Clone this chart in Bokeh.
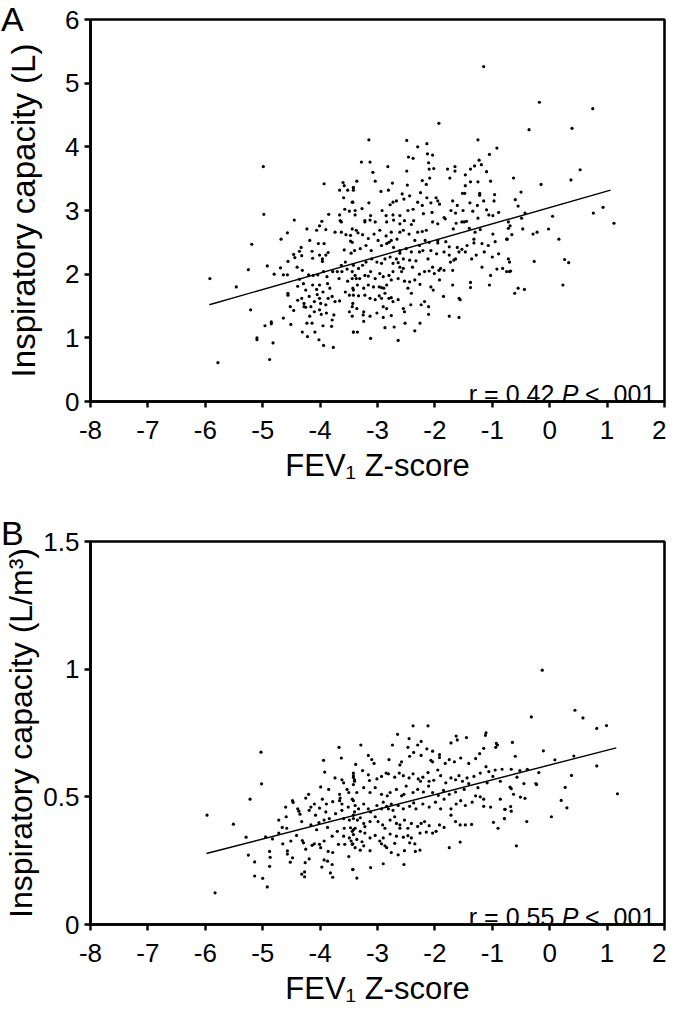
from bokeh.plotting import figure
from bokeh.models import Range1d, FixedTicker, Div
from bokeh.layouts import column
from bokeh.core.properties import value
from bokeh.embed import file_html
from bokeh.resources import INLINE

FONT = "Liberation Sans"

x_ticks = [-8, -7, -6, -5, -4, -3, -2, -1, 0, 1, 2]
x_tick_labels = ["-8", "-7", "-6", "-5", "-4", "-3", "-2", "-1", "0", "1", "2"]
a_y_ticks = [0, 1, 2, 3, 4, 5, 6]
a_y_tick_labels = ["0", "1", "2", "3", "4", "5", "6"]
b_y_ticks = [0, 0.5, 1, 1.5]
b_y_tick_labels = ["0", "0.5", "1", "1.5"]

x_title = "FEV\u2081 Z-score"
a_y_title = "Inspiratory capacity (L)"
b_y_title = "Inspiratory capacity (L/m\u00b3)"
panel_letters = ["A", "B"]

# Panel A: FEV1 Z-score vs inspiratory capacity (L)
a_left = [
    (-4.99, 3.69), (-3.93, 3.42), (-4.98, 2.94), (-4.45, 2.85), (-5.19, 2.47), (-4.68, 2.55), (-4.57, 2.65),
    (-4.23, 2.71), (-5.25, 2.07), (-4.92, 2.13), (-5.92, 1.93), (-5.46, 1.80), (-5.21, 1.44), (-4.96, 1.19),
    (-4.85, 1.25), (-4.85, 1.22), (-5.10, 1.00), (-5.10, 0.97), (-4.82, 0.92), (-5.78, 0.61), (-4.88, 0.66),
    (-4.64, 1.31), (-4.51, 1.21), (-4.80, 2.00), (-4.69, 2.10), (-4.64, 1.99), (-4.57, 1.99), (-4.56, 2.20),
    (-4.46, 2.31), (-4.44, 2.26), (-4.36, 2.36), (-4.32, 2.29), (-4.33, 2.42), (-4.40, 2.11), (-4.31, 2.06),
    (-4.18, 2.53), (-4.14, 2.36), (-4.13, 2.25), (-4.03, 2.48), (-4.01, 2.30), (-3.93, 2.48), (-3.96, 2.24),
    (-3.96, 2.20), (-3.90, 2.30), (-3.86, 2.34), (-4.06, 2.69), (-3.97, 2.83), (-4.01, 2.76), (-3.90, 2.70),
    (-3.85, 2.94), (-3.74, 2.66), (-3.66, 2.93), (-3.65, 2.84), (-3.63, 2.82), (-3.60, 3.44), (-3.58, 3.39),
    (-3.66, 3.32), (-3.52, 3.32), (-3.59, 3.20), (-3.49, 2.99), (-3.57, 3.02), (-3.63, 2.66), (-3.55, 2.62),
    (-3.47, 2.61), (-3.44, 2.71), (-3.42, 3.36), (-3.44, 3.13), (-3.47, 2.52), (-3.58, 2.38), (-3.46, 2.33),
    (-3.56, 2.19), (-3.63, 2.14), (-3.70, 2.04), (-3.62, 2.04), (-3.53, 2.08), (-3.44, 1.93), (-3.52, 1.89),
    (-3.67, 1.93), (-3.78, 2.04), (-3.88, 1.96), (-3.94, 2.04), (-4.04, 1.99), (-4.12, 1.98), (-4.20, 1.99),
    (-4.36, 1.92), (-4.29, 1.85), (-4.39, 1.81), (-4.25, 1.75), (-4.13, 1.83), (-4.01, 1.83), (-4.06, 1.76),
    (-3.95, 1.72), (-3.87, 1.85), (-3.83, 1.78), (-3.79, 1.65), (-3.74, 1.57), (-3.66, 1.58), (-3.56, 1.72),
    (-3.49, 1.67), (-3.42, 1.75), (-3.43, 1.54), (-3.49, 1.41), (-3.44, 1.34), (-3.42, 1.09), (-4.56, 1.70),
    (-4.56, 1.67), (-4.52, 1.49), (-4.46, 1.43), (-4.39, 1.59), (-4.32, 1.62), (-4.28, 1.54), (-4.28, 1.49),
    (-4.25, 1.48), (-4.19, 1.65), (-4.16, 1.49), (-4.10, 1.57), (-4.05, 1.68), (-4.01, 1.62), (-3.99, 1.54),
    (-3.90, 1.52), (-3.86, 1.62), (-4.10, 1.41), (-4.01, 1.44), (-3.98, 1.37), (-3.89, 1.39), (-3.76, 1.36),
    (-3.79, 1.28), (-4.18, 1.34), (-4.23, 1.23), (-4.14, 1.23), (-3.95, 1.19), (-3.80, 1.18), (-4.31, 1.09),
    (-4.22, 1.02), (-4.09, 1.09), (-4.02, 0.97), (-3.94, 0.88), (-3.77, 0.85),
]
a_mid = [
    (-1.15, 5.26), (-1.93, 4.37), (-3.15, 4.11), (-2.49, 4.10), (-2.14, 4.05), (-2.30, 4.00), (-1.25, 4.11),
    (-0.92, 3.98), (-1.05, 3.88), (-3.28, 3.76), (-3.13, 3.76), (-2.46, 3.84), (-2.38, 3.82), (-2.13, 3.89),
    (-2.04, 3.87), (-2.82, 3.69), (-2.49, 3.62), (-2.11, 3.75), (-2.10, 3.65), (-2.02, 3.66), (-1.78, 3.65),
    (-1.74, 3.51), (-1.65, 3.69), (-1.65, 3.62), (-1.47, 3.56), (-1.38, 3.65), (-1.31, 3.70), (-1.23, 3.79),
    (-1.19, 3.72), (-1.10, 3.61), (-3.08, 3.60), (-3.36, 3.46), (-3.04, 3.46), (-2.74, 3.43), (-2.48, 3.40),
    (-2.22, 3.47), (-2.15, 3.41), (-2.09, 3.51), (-3.42, 3.36), (-3.42, 3.32), (-2.81, 3.32), (-2.94, 3.30),
    (-2.57, 3.26), (-2.25, 3.28), (-2.14, 3.20), (-1.98, 3.20), (-1.47, 3.39), (-1.38, 3.45), (-1.25, 3.45),
    (-1.03, 3.46), (-1.52, 3.27), (-1.48, 3.27), (-1.22, 3.27), (-1.22, 3.24), (-0.96, 3.25),
    (-3.43, 3.13), (-3.15, 3.12), (-2.78, 3.09), (-2.73, 3.13), (-2.67, 3.15), (-2.54, 3.18), (-2.44, 3.23),
    (-2.30, 3.13), (-2.22, 3.08), (-2.07, 3.12), (-1.95, 3.15), (-1.92, 3.10), (-1.69, 3.15), (-1.61, 3.08),
    (-1.39, 3.12), (-1.26, 3.08), (-1.15, 3.15), (-1.10, 3.01), (-0.97, 3.15),
    (-3.39, 3.00), (-3.39, 2.93), (-3.27, 3.03), (-3.12, 2.92), (-2.92, 3.00), (-2.85, 2.92), (-2.73, 2.93),
    (-2.61, 2.92), (-2.47, 3.00), (-2.38, 3.02), (-2.20, 2.95), (-2.05, 2.97), (-1.84, 2.89), (-1.72, 3.00),
    (-1.64, 2.96), (-1.51, 3.00), (-1.45, 2.83), (-1.34, 2.99), (-1.25, 2.88), (-1.06, 2.93), (-0.99, 2.92),
    (-0.89, 2.97),
    (-3.22, 2.84), (-3.22, 2.82), (-3.13, 2.85), (-3.04, 2.82), (-2.84, 2.82), (-2.72, 2.85), (-2.61, 2.79),
    (-2.53, 2.84), (-2.41, 2.78), (-2.37, 2.84), (-2.30, 2.66), (-2.22, 2.67), (-2.15, 2.69), (-2.04, 2.82),
    (-1.95, 2.79), (-1.82, 2.87), (-1.68, 2.71), (-1.63, 2.80), (-1.53, 2.82), (-1.49, 2.82), (-1.40, 2.72),
    (-1.30, 2.66), (-1.21, 2.70), (-0.99, 2.63),
    (-3.37, 2.69), (-3.34, 2.65), (-3.26, 2.62), (-3.16, 2.56), (-3.06, 2.63), (-2.96, 2.69), (-2.85, 2.60),
    (-2.76, 2.66), (-2.61, 2.66), (-2.55, 2.69), (-2.45, 2.63), (-2.35, 2.53), (-2.27, 2.45), (-2.17, 2.53),
    (-2.10, 2.50), (-1.95, 2.53), (-1.95, 2.49), (-1.81, 2.51), (-1.75, 2.43), (-1.61, 2.42), (-1.53, 2.39),
    (-1.44, 2.45), (-1.32, 2.55), (-1.32, 2.49), (-1.18, 2.48), (-1.07, 2.45), (-0.95, 2.51), (-0.75, 2.55),
    (-3.44, 2.50), (-3.40, 2.37), (-3.30, 2.40), (-3.20, 2.45), (-3.11, 2.37), (-2.99, 2.53), (-2.93, 2.45),
    (-2.84, 2.48), (-2.80, 2.50), (-2.76, 2.53), (-2.72, 2.42), (-2.66, 2.55), (-2.61, 2.37), (-2.61, 2.33),
    (-2.50, 2.40), (-2.41, 2.35), (-2.27, 2.35), (-2.21, 2.37), (-2.07, 2.37), (-1.97, 2.32), (-1.84, 2.35),
    (-1.75, 2.30), (-1.67, 2.22), (-1.64, 2.24), (-1.58, 2.35), (-1.47, 2.35), (-1.36, 2.24), (-1.28, 2.30),
    (-1.14, 2.35), (-1.00, 2.27), (-0.89, 2.32),
    (-1.18, 2.11), (-1.03, 1.98), (-0.92, 2.08), (-0.82, 2.09), (-0.75, 2.04), (-1.05, 1.83), (-1.38, 1.87),
    (-1.38, 1.79), (-1.69, 1.83), (-1.58, 1.62), (-1.56, 1.60), (-1.85, 1.65), (-1.75, 1.34), (-1.58, 1.32),
    (-1.92, 1.91), (-2.01, 2.01), (-1.93, 2.06), (-1.90, 2.09), (-2.10, 2.05), (-2.04, 2.11), (-2.18, 2.04),
    (-2.27, 2.00), (-2.35, 1.91), (-2.26, 1.84), (-2.07, 1.80), (-2.03, 1.75), (-2.18, 1.57), (-2.11, 1.49),
    (-2.11, 1.37), (-2.24, 1.52), (-2.42, 1.52), (-2.41, 1.70), (-2.47, 1.78), (-2.53, 1.89), (-2.44, 1.88),
    (-2.61, 2.11), (-2.55, 2.09), (-2.58, 2.04), (-2.73, 2.17), (-2.67, 2.24), (-2.64, 2.18), (-2.78, 2.27),
    (-2.87, 2.24), (-2.93, 2.17), (-3.01, 2.19), (-3.10, 2.24), (-3.20, 2.19), (-3.26, 2.14), (-3.33, 2.09),
    (-3.42, 2.14), (-3.44, 2.04), (-3.39, 1.98), (-3.37, 1.93), (-3.31, 1.93), (-3.22, 1.98), (-3.16, 1.97),
    (-3.12, 2.04), (-3.04, 1.93), (-2.96, 2.01), (-2.90, 1.96), (-2.80, 1.98), (-2.73, 2.04), (-2.64, 1.93),
    (-2.76, 1.91), (-2.84, 1.83), (-2.93, 1.79), (-2.89, 1.78), (-2.97, 1.80), (-3.07, 1.80), (-3.16, 1.83),
    (-3.24, 1.78), (-3.35, 1.83), (-3.43, 1.78),
    (-3.42, 1.67), (-3.33, 1.66), (-3.22, 1.67), (-3.13, 1.62), (-3.04, 1.60), (-2.97, 1.66), (-2.93, 1.62),
    (-2.87, 1.70), (-2.80, 1.62), (-2.76, 1.63), (-2.90, 1.49), (-2.84, 1.46), (-2.73, 1.57), (-2.64, 1.60),
    (-2.55, 1.46), (-2.53, 1.41), (-2.76, 1.35), (-2.90, 1.32), (-3.01, 1.39), (-3.13, 1.34), (-3.24, 1.41),
    (-3.25, 1.36), (-3.24, 1.26), (-3.36, 1.46), (-3.44, 1.49), (-3.42, 1.09), (-3.35, 1.09), (-3.12, 0.99),
    (-2.87, 1.16), (-2.71, 1.17), (-2.64, 0.96), (-2.52, 1.23), (-2.35, 1.11), (-2.26, 1.23),
    (-2.44, 2.22), (-2.33, 2.21), (-2.39, 2.11), (-2.55, 2.24), (-2.12, 2.24), (-1.84, 2.06), (-1.73, 2.19),
    (-1.69, 2.06),
]
a_right = [
    (-0.18, 4.70), (0.75, 4.60), (-0.36, 4.27), (0.39, 4.29), (0.53, 3.64), (0.37, 3.48), (-0.63, 3.51),
    (-0.15, 3.41), (-0.50, 3.29), (-0.60, 3.17), (-0.55, 3.07), (-0.43, 2.96), (-0.49, 2.88), (0.05, 2.91),
    (0.76, 2.96), (0.93, 3.05), (1.12, 2.80), (-0.72, 2.82), (-0.69, 2.76), (-0.72, 2.72), (-0.47, 2.71),
    (-0.66, 2.62), (-0.74, 2.55), (-0.29, 2.63), (-0.22, 2.66), (-0.02, 2.71), (0.16, 2.55), (-0.72, 2.24),
    (-0.70, 2.19), (-0.70, 2.04), (-0.68, 2.05), (-0.27, 2.20), (0.26, 2.23), (0.33, 2.18), (0.23, 1.83),
    (-0.61, 1.70), (-0.55, 1.78), (-0.44, 1.76),
]
a_fit_x = [-5.93, 1.06]
a_fit_y = [1.52, 3.32]
a_stat = ["r = 0.42", "P", "< .001"]

# Panel B: FEV1 Z-score vs inspiratory capacity (L/m3)
b_left = [
    (-5.03, 0.675), (-3.67, 0.694), (-3.63, 0.652), (-3.94, 0.643), (-3.92, 0.597), (-5.02, 0.551),
    (-5.22, 0.491), (-5.97, 0.428), (-5.51, 0.393), (-5.29, 0.342), (-5.25, 0.272), (-5.14, 0.245),
    (-5.14, 0.190), (-5.00, 0.181), (-4.92, 0.147), (-5.83, 0.124), (-4.88, 0.286), (-4.87, 0.263),
    (-4.88, 0.228), (-4.95, 0.343), (-4.83, 0.335), (-4.72, 0.409), (-4.72, 0.358), (-4.60, 0.460),
    (-4.59, 0.422), (-4.66, 0.380), (-4.58, 0.377), (-4.65, 0.316), (-4.57, 0.288), (-4.57, 0.276),
    (-4.51, 0.327), (-4.48, 0.485), (-4.47, 0.478), (-4.52, 0.244), (-4.48, 0.261), (-4.41, 0.349),
    (-4.39, 0.453), (-4.37, 0.444), (-4.35, 0.432), (-4.32, 0.403), (-4.31, 0.329), (-4.29, 0.320),
    (-4.25, 0.495), (-4.20, 0.510), (-4.19, 0.447), (-4.16, 0.390), (-4.16, 0.460), (-4.10, 0.472),
    (-4.14, 0.310), (-4.25, 0.295), (-4.26, 0.242), (-4.19, 0.257), (-4.10, 0.316), (-4.08, 0.428),
    (-4.06, 0.371), (-4.02, 0.399), (-4.01, 0.456), (-4.01, 0.314), (-3.99, 0.301), (-3.99, 0.539),
    (-3.96, 0.491), (-3.93, 0.409), (-3.90, 0.441), (-3.89, 0.472), (-3.87, 0.380), (-3.93, 0.327),
    (-3.86, 0.286), (-3.93, 0.253), (-3.87, 0.248), (-3.97, 0.225), (-3.85, 0.529), (-3.84, 0.415),
    (-3.79, 0.346), (-3.78, 0.481), (-3.78, 0.282), (-3.74, 0.574), (-3.73, 0.434), (-3.70, 0.365),
    (-3.68, 0.314), (-3.66, 0.510), (-3.65, 0.495), (-3.66, 0.485), (-3.62, 0.567), (-3.59, 0.555),
    (-3.62, 0.472), (-3.62, 0.447), (-3.59, 0.415), (-3.58, 0.377), (-3.59, 0.346), (-3.57, 0.314),
    (-3.53, 0.529), (-3.50, 0.517), (-3.51, 0.460), (-3.49, 0.409), (-3.47, 0.379), (-3.44, 0.365),
    (-3.49, 0.339), (-3.46, 0.327), (-3.44, 0.314), (-3.50, 0.266), (-3.43, 0.215), (-3.79, 0.235),
    (-3.78, 0.185), (-3.82, 0.202), (-4.32, 0.197), (-4.27, 0.187), (-4.27, 0.206), (-3.42, 0.583),
    (-3.40, 0.567), (-3.42, 0.548), (-3.42, 0.485), (-3.40, 0.441), (-3.42, 0.371),
]
b_mid = [
    (-2.38, 0.778), (-2.12, 0.778), (-2.65, 0.745), (-2.45, 0.728), (-2.30, 0.703), (-2.24, 0.717),
    (-2.74, 0.703), (-3.29, 0.703), (-2.47, 0.694), (-1.63, 0.738), (-1.61, 0.723), (-1.45, 0.732),
    (-1.72, 0.711), (-1.11, 0.751), (-1.12, 0.741), (-0.93, 0.709), (-0.91, 0.703), (-0.94, 0.694),
    (-1.15, 0.690), (-1.22, 0.669), (-1.29, 0.650), (-1.41, 0.631), (-1.55, 0.652), (-1.66, 0.637),
    (-1.75, 0.646), (-1.82, 0.631), (-1.92, 0.665), (-1.92, 0.654), (-2.04, 0.679), (-2.14, 0.688),
    (-2.07, 0.643), (-2.04, 0.637), (-2.24, 0.662), (-2.37, 0.674), (-2.44, 0.659), (-2.58, 0.637),
    (-2.61, 0.625), (-2.80, 0.646), (-3.10, 0.646), (-3.06, 0.631), (-3.16, 0.662), (-3.38, 0.627),
    (-3.26, 0.603), (-3.42, 0.593), (-3.42, 0.576), (-3.40, 0.561), (-3.16, 0.586), (-3.14, 0.564),
    (-3.01, 0.570), (-2.93, 0.580), (-2.85, 0.593), (-2.81, 0.590), (-2.70, 0.577), (-2.62, 0.593),
    (-2.55, 0.583), (-2.45, 0.574), (-2.38, 0.590), (-2.29, 0.570), (-2.25, 0.561), (-2.21, 0.577),
    (-2.12, 0.595), (-2.10, 0.561), (-2.02, 0.565), (-1.95, 0.605), (-1.90, 0.583), (-1.81, 0.555),
    (-1.72, 0.574), (-1.64, 0.567), (-1.58, 0.583), (-1.52, 0.561), (-1.44, 0.574), (-1.41, 0.552),
    (-1.32, 0.580), (-1.21, 0.593), (-1.11, 0.618), (-1.06, 0.599), (-0.99, 0.580), (-0.95, 0.605),
    (-0.83, 0.608), (-0.86, 0.561), (-1.09, 0.555), (-1.25, 0.536), (-1.29, 0.504), (-1.21, 0.500),
    (-1.15, 0.491), (-0.86, 0.491), (-0.78, 0.451), (-0.79, 0.415), (-0.98, 0.400), (-0.90, 0.377),
    (-1.03, 0.460), (-1.15, 0.463), (-1.35, 0.479), (-1.47, 0.466), (-1.55, 0.485), (-1.63, 0.472),
    (-1.72, 0.453), (-1.72, 0.428), (-1.64, 0.403), (-1.56, 0.390), (-1.47, 0.390), (-1.36, 0.392),
    (-1.49, 0.529), (-1.64, 0.519), (-1.75, 0.510), (-1.85, 0.525), (-1.94, 0.506), (-2.04, 0.517),
    (-2.11, 0.542), (-2.20, 0.519), (-2.30, 0.529), (-2.38, 0.517), (-2.50, 0.542), (-2.54, 0.510),
    (-2.58, 0.504), (-2.67, 0.529), (-2.78, 0.517), (-2.83, 0.504), (-2.93, 0.510), (-3.04, 0.536),
    (-3.13, 0.517), (-3.24, 0.536), (-3.36, 0.517), (-3.44, 0.491), (-3.39, 0.466), (-3.33, 0.453),
    (-3.24, 0.472), (-3.16, 0.453), (-3.12, 0.441), (-3.01, 0.466), (-2.93, 0.453), (-2.90, 0.479),
    (-2.84, 0.463), (-2.81, 0.453), (-2.76, 0.472), (-2.73, 0.447), (-2.64, 0.466), (-2.55, 0.453),
    (-2.44, 0.463), (-2.37, 0.476), (-2.33, 0.453), (-2.21, 0.472), (-2.10, 0.460), (-1.99, 0.479),
    (-1.90, 0.453), (-1.84, 0.491), (-3.42, 0.428), (-3.42, 0.415), (-3.35, 0.409), (-3.30, 0.418),
    (-3.24, 0.396), (-3.22, 0.383), (-3.13, 0.403), (-3.04, 0.422), (-2.99, 0.403), (-2.91, 0.390),
    (-2.87, 0.377), (-2.78, 0.409), (-2.70, 0.422), (-2.67, 0.396), (-2.61, 0.390), (-2.61, 0.377),
    (-2.53, 0.409), (-2.47, 0.377), (-2.41, 0.396), (-2.30, 0.384), (-2.24, 0.396), (-2.18, 0.403),
    (-2.10, 0.387), (-1.98, 0.365), (-1.92, 0.390), (-1.84, 0.380), (-2.04, 0.358), (-2.15, 0.362),
    (-2.26, 0.358), (-2.41, 0.339), (-2.47, 0.348), (-2.55, 0.342), (-2.67, 0.346), (-2.78, 0.354),
    (-2.90, 0.339), (-2.96, 0.327), (-2.93, 0.316), (-3.04, 0.349), (-3.13, 0.339), (-3.22, 0.358),
    (-3.30, 0.365), (-3.39, 0.377), (-3.42, 0.352), (-3.36, 0.333), (-3.27, 0.324), (-3.43, 0.316),
    (-3.39, 0.301), (-3.24, 0.308), (-3.30, 0.291), (-3.13, 0.289), (-2.87, 0.308), (-2.84, 0.301),
    (-2.76, 0.282), (-2.70, 0.318), (-2.64, 0.273), (-2.53, 0.289), (-2.44, 0.320), (-2.35, 0.316),
    (-2.34, 0.286), (-2.26, 0.291), (-1.75, 0.301), (-1.56, 0.323), (-2.90, 0.238), (-3.12, 0.223),
    (-2.54, 0.235), (-3.43, 0.216), (-3.36, 0.182),
]
b_right = [
    (-0.13, 0.996), (0.44, 0.839), (0.58, 0.809), (-0.32, 0.813), (0.82, 0.768), (0.99, 0.779),
    (-0.65, 0.713), (-0.11, 0.680), (-0.60, 0.659), (0.09, 0.645), (0.42, 0.660), (0.82, 0.621),
    (-0.67, 0.608), (-0.52, 0.603), (-0.39, 0.608), (-0.19, 0.595), (-0.57, 0.577), (0.38, 0.584),
    (-0.45, 0.552), (-0.24, 0.552), (-0.23, 0.548), (-0.69, 0.538), (-0.67, 0.532), (0.27, 0.537),
    (-0.63, 0.510), (-0.51, 0.499), (-0.43, 0.494), (0.20, 0.486), (1.18, 0.512), (-0.78, 0.451),
    (-0.68, 0.462), (-0.67, 0.444), (0.30, 0.457), (0.03, 0.422), (-0.79, 0.415), (-0.40, 0.403),
    (-0.58, 0.308),
]
b_fit_x = [-5.98, 1.16]
b_fit_y = [0.278, 0.692]
b_stat = ["r = 0.55", "P", "< .001"]

FIG_W = 666
BORDER_L = 85
BORDER_R = 2


def make_panel(points, fit_x, fit_y, y_max, y_ticks, y_tick_labels, y_title,
               stat, height, top, bottom, y_standoff, y_title_size):
    frame_h = height - top - bottom
    p = figure(width=FIG_W, height=height, output_backend="svg", toolbar_location=None,
               x_range=Range1d(-8, 2), y_range=Range1d(0, y_max),
               min_border_left=BORDER_L, min_border_right=BORDER_R, min_border_top=top,
               min_border_bottom=bottom,
               background_fill_color="white", border_fill_alpha=0)
    p.grid.visible = False
    p.outline_line_color = "black"
    p.outline_line_width = 2.6

    for ax in (p.xaxis[0], p.yaxis[0]):
        ax.axis_line_width = 2.6
        ax.axis_line_color = "black"
        ax.major_tick_line_width = 2.4
        ax.major_tick_line_color = "black"
        ax.major_tick_out = 6
        ax.major_tick_in = 0
        ax.minor_tick_line_color = None
        ax.major_label_text_font = FONT
        ax.major_label_text_font_size = "26px"
        ax.major_label_text_color = "black"
        ax.axis_label_text_font = FONT
        ax.axis_label_text_font_style = "normal"
        ax.axis_label_text_color = "black"

    p.xaxis.ticker = FixedTicker(ticks=x_ticks)
    p.xaxis.major_label_overrides = dict(zip(x_ticks, x_tick_labels))
    p.xaxis.axis_label = x_title
    p.xaxis.axis_label_text_font_size = "31px"
    p.xaxis.major_label_standoff = 13
    p.xaxis.axis_label_standoff = 6

    p.yaxis.ticker = FixedTicker(ticks=y_ticks)
    p.yaxis.major_label_overrides = dict(zip(y_ticks, y_tick_labels))
    p.yaxis.axis_label = y_title
    p.yaxis.axis_label_text_font_size = y_title_size
    p.yaxis.major_label_standoff = 5
    p.yaxis.axis_label_standoff = y_standoff

    xs = [pt[0] for pt in points]
    ys = [pt[1] for pt in points]
    p.scatter(xs, ys, size=3.2, fill_color="black", line_color=None)
    p.line(fit_x, fit_y, line_width=1.4, line_color="black")

    stat_x = 1.84
    stat_y = y_max * 8.0 / frame_h
    common = dict(text_font=value(FONT), text_font_size="25px", text_color="black",
                  text_align="right", text_baseline="alphabetic")
    p.text(x=[stat_x], y=[stat_y], text=[stat[2]], x_offset=0, **common)
    p.text(x=[stat_x], y=[stat_y], text=[stat[1]], x_offset=-77, text_font_style="italic", **common)
    p.text(x=[stat_x], y=[stat_y], text=[stat[0]], x_offset=-101, **common)
    return p


def letter_div(letter, host_h, drop):
    # an HTML overlay placed on the top-left corner of the panel drawn just before it
    h = 38
    html = ('<div style="font-family: \'Liberation Sans\', Arial, sans-serif; font-size: 34px; '
            'line-height: 38px; color: black; padding-left: 1px; margin: 0;">%s</div>' % letter)
    return Div(text=html, width=40, height=h,
               margin=(-host_h + drop, 0, host_h - drop - h, 0),
               styles={"position": "relative", "z-index": "10", "overflow": "visible"})


A_H, A_TOP, A_BOT = 485, 19, 82
B_H, B_TOP, B_BOT = 523, 56, 78

pa = make_panel(a_left + a_mid + a_right, a_fit_x, a_fit_y, 6, a_y_ticks, a_y_tick_labels,
                a_y_title, a_stat, A_H, A_TOP, A_BOT, y_standoff=20, y_title_size="33px")
pb = make_panel(b_left + b_mid + b_right, b_fit_x, b_fit_y, 1.5, b_y_ticks, b_y_tick_labels,
                b_y_title, b_stat, B_H, B_TOP, B_BOT, y_standoff=1, y_title_size="32px")

la = letter_div(panel_letters[0], A_H, 0)
lb = letter_div(panel_letters[1], B_H, 29)

layout = column(pa, la, pb, lb, spacing=0)
open("out.html", "w").write(file_html(layout, INLINE))
